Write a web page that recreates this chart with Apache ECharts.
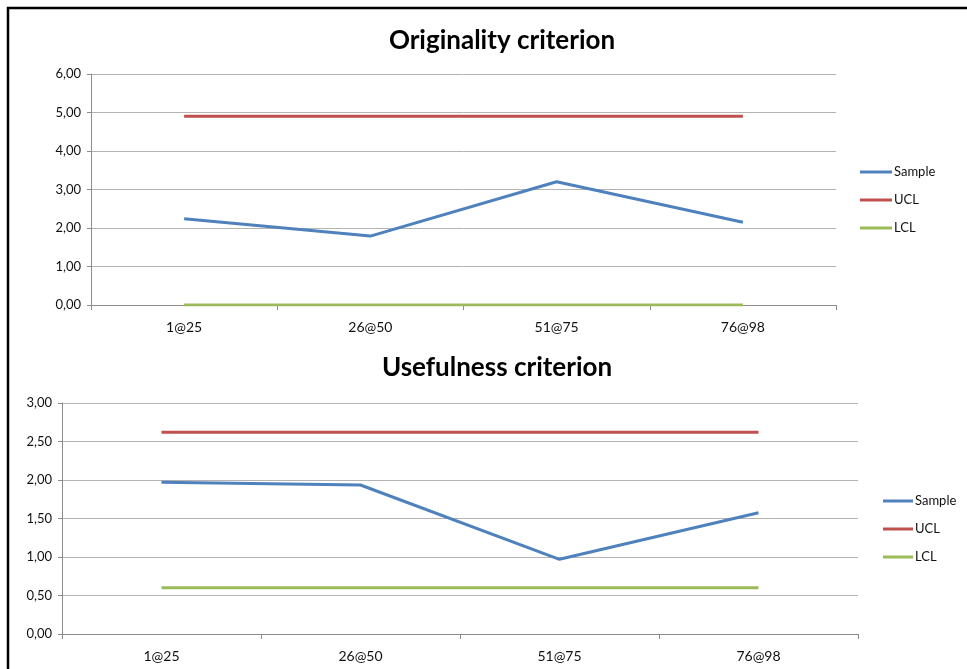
<!DOCTYPE html>
<html>
<head>
<meta charset="utf-8">
<script src="https://cdn.jsdelivr.net/npm/echarts@6/dist/echarts.min.js"></script>
<style>html,body{margin:0;padding:0;background:#fff;}#c{width:967px;height:669px;}</style>
</head>
<body>
<div id="c"></div>
<script>
const categories = ['1@25', '26@50', '51@75', '76@98'];
const origSample = [2.24, 1.79, 3.20, 2.15];
const origUCL = [4.90, 4.90, 4.90, 4.90];
const origLCL = [0, 0, 0, 0];
const useSample = [1.97, 1.935, 0.97, 1.575];
const useUCL = [2.62, 2.62, 2.62, 2.62];
const useLCL = [0.60, 0.60, 0.60, 0.60];
const titles = ['Originality criterion', 'Usefulness criterion'];
const seriesNames = ['Sample', 'UCL', 'LCL'];
const colors = ['#4F81BD', '#C0504D', '#9BBB59'];

const FONT = 'Lato';
const fmt = v => v.toFixed(2).replace('.', ',');

function xAxis(gi) {
  return {
    type: 'category', gridIndex: gi, data: categories, boundaryGap: true,
    axisLine: { lineStyle: { color: '#8c8c8c', width: 1 } },
    axisTick: { show: true, length: 5, lineStyle: { color: '#8c8c8c' } },
    axisLabel: { color: '#111', fontFamily: FONT, fontSize: 14, margin: 15 },
    splitLine: { show: false }
  };
}
function yAxis(gi, max, interval) {
  return {
    type: 'value', gridIndex: gi, min: 0, max: max, interval: interval,
    axisLine: { show: true, lineStyle: { color: '#8c8c8c', width: 1 } },
    axisTick: { show: true, length: 4, lineStyle: { color: '#8c8c8c' } },
    axisLabel: { color: '#111', fontFamily: FONT, fontSize: 13, margin: 10, formatter: fmt },
    splitLine: { show: true, lineStyle: { color: '#b3b3b3', width: 1 } }
  };
}
function line(name, data, gi, ci) {
  return {
    name: name, type: 'line', xAxisIndex: gi, yAxisIndex: gi, data: data,
    symbol: 'none', lineStyle: { color: colors[ci], width: 3 }, itemStyle: { color: colors[ci] },
    z: ci === 0 ? 4 : 3, animation: false
  };
}
function legend(gi, left, top, w) {
  return {
    orient: 'vertical', left: left, top: top, padding: 0, itemWidth: w, itemHeight: 3, itemGap: 14,
    icon: 'rect', data: seriesNames,
    textStyle: { color: '#111', fontFamily: FONT, fontSize: 13, lineHeight: 14, padding: [0, 0, 0, -3] },
    selectedMode: false
  };
}

const chart = echarts.init(document.getElementById('c'), null, { renderer: 'canvas' });
chart.setOption({
  animation: false,
  title: [
    { text: titles[0], left: 497, top: 23, textAlign: 'center', textStyle: { fontFamily: FONT, fontWeight: 'bold', fontSize: 26, color: '#000' } },
    { text: titles[1], left: 492, top: 350, textAlign: 'center', textStyle: { fontFamily: FONT, fontWeight: 'bold', fontSize: 26, color: '#000' } }
  ],
  grid: [
    { left: 91, top: 74, width: 745, height: 231 },
    { left: 62, top: 403, width: 796, height: 231 }
  ],
  legend: [legend(0, 860, 165, 32), legend(1, 883, 494, 30)],
  xAxis: [xAxis(0), xAxis(1)],
  yAxis: [yAxis(0, 6, 1), yAxis(1, 3, 0.5)],
  series: [
    line('Sample', origSample, 0, 0),
    line('UCL', origUCL, 0, 1),
    line('LCL', origLCL, 0, 2),
    line('Sample', useSample, 1, 0),
    line('UCL', useUCL, 1, 1),
    line('LCL', useLCL, 1, 2)
  ],
  graphic: [
    { type: 'line', shape: { x1: 7, y1: 8, x2: 967, y2: 8 }, style: { stroke: '#000', lineWidth: 2.5 } },
    { type: 'line', shape: { x1: 8, y1: 7, x2: 8, y2: 669 }, style: { stroke: '#000', lineWidth: 2.5 } }
  ]
});
</script>
</body>
</html>
